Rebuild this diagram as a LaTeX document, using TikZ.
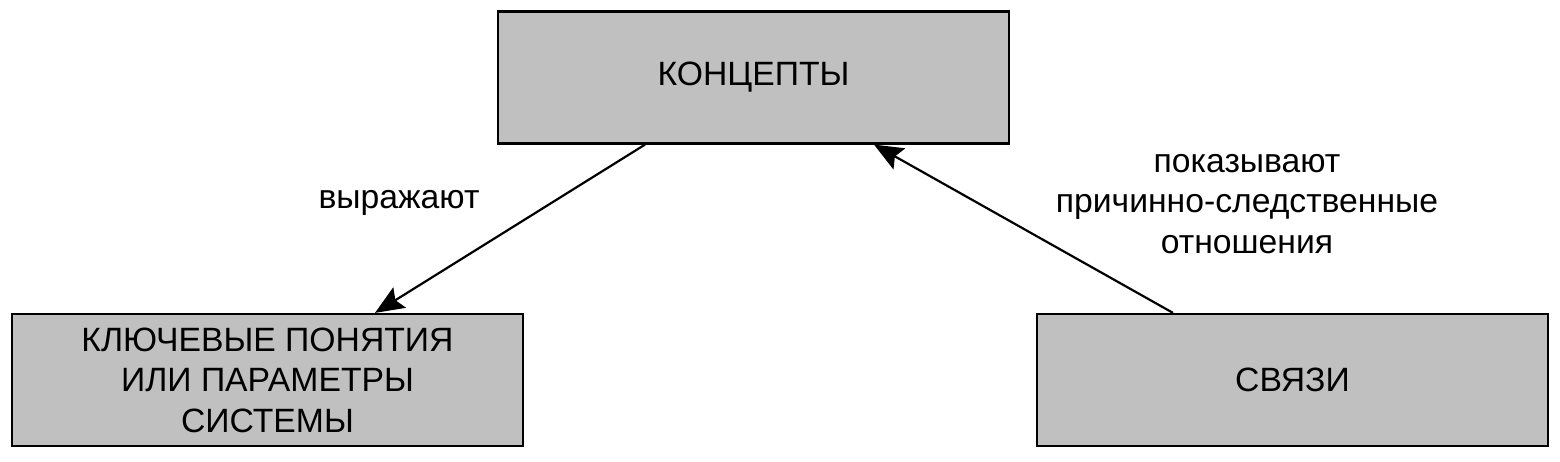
\documentclass[tikz,border=0pt]{standalone}
\usepackage{fontspec}
\setmainfont{Liberation Sans}
\usetikzlibrary{arrows.meta}
\definecolor{boxgray}{HTML}{C0C0C0}
\begin{document}
\begin{tikzpicture}[x=1pt,y=-1pt,
  box/.style={draw=black, line width=2.2pt, fill=boxgray, minimum width=511pt, minimum height=132pt, inner sep=0pt, align=center, font=\fontsize{33.7}{40.5}\selectfont},
  lbl/.style={align=center, font=\fontsize{33.7}{40.5}\selectfont, inner sep=0pt},
  conn/.style={line width=2.2pt, -{Stealth[length=29pt, width=24pt, inset=5pt, fill=black]}}]
\useasboundingbox (0,0) rectangle (1560,461);
\node[box] (top) at (753.5,77.5) {КОНЦЕПТЫ};
\node[box] (left) at (267.5,380) {КЛЮЧЕВЫЕ ПОНЯТИЯ\\ИЛИ ПАРАМЕТРЫ\\СИСТЕМЫ};
\node[box] (right) at (1292.5,380) {СВЯЗИ};
\node[lbl] (l1) at (399,203) {выражают};
\node[lbl] (l2) at (1247,204) {показывают\\причинно-следственные\\отношения};
\draw[conn] ([xshift=-108.5pt]top.south) -- ([xshift=107.5pt]left.north);
\draw[conn] ([xshift=-119.5pt]right.north) -- ([xshift=120.5pt]top.south);
\end{tikzpicture}
\end{document}
